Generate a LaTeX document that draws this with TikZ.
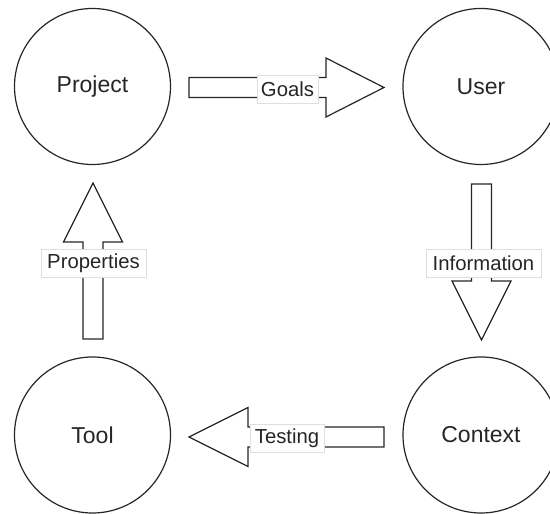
\documentclass[tikz,border=0pt]{standalone}
\usepackage{fontspec}
\setmainfont{Liberation Sans}
\begin{document}
\begin{tikzpicture}[x=1pt,y=1pt,
  concept/.style={circle,draw=black!85,line width=1.2pt,minimum size=156pt,inner sep=0pt,font=\fontsize{23}{27}\selectfont,text=black!85},
  blockarrow/.style={draw=black!85,line width=1.2pt,fill=white,line join=miter},
  lbl/.style={draw=black!13,line width=0.8pt,fill=white,inner sep=0pt,minimum height=28pt,font=\fontsize{20.3}{24}\selectfont,text=black!85}]
\useasboundingbox (0,0) rectangle (550,514);
\clip (0,0) rectangle (550,514);
\node[concept] (project) at (92.5,427.5) {Project};
\node[concept] (user) at (481,427.5) {User};
\node[concept] (tool) at (92.5,79) {Tool};
\node[concept] (context) at (481,79) {Context};
% Goals (right)
\draw[blockarrow,shift={(189,426.5)},rotate=0] (0,-10) -- (137,-10) -- (137,-29.5) -- (195,0) -- (137,29.5) -- (137,10) -- (0,10) -- cycle;
% Information (down)
\draw[blockarrow,shift={(481.5,330)},rotate=-90] (0,-10) -- (97,-10) -- (97,-29.5) -- (156,0) -- (97,29.5) -- (97,10) -- (0,10) -- cycle;
% Testing (left)
\draw[blockarrow,shift={(384,77)},rotate=180] (0,-10) -- (136,-10) -- (136,-29.5) -- (195,0) -- (136,29.5) -- (136,10) -- (0,10) -- cycle;
% Properties (up)
\draw[blockarrow,shift={(93,175)},rotate=90] (0,-10) -- (97,-10) -- (97,-29.5) -- (156,0) -- (97,29.5) -- (97,10) -- (0,10) -- cycle;
\node[lbl,minimum width=61pt] (goals) at (287.5,425) {Goals};
\node[lbl,minimum width=74pt] (testing) at (287,76) {Testing};
\node[lbl,minimum width=105pt] (props) at (93.5,250.5) {Properties};
\node[lbl,minimum width=115pt] (info) at (483.5,250.5) {Information};
\end{tikzpicture}
\end{document}
